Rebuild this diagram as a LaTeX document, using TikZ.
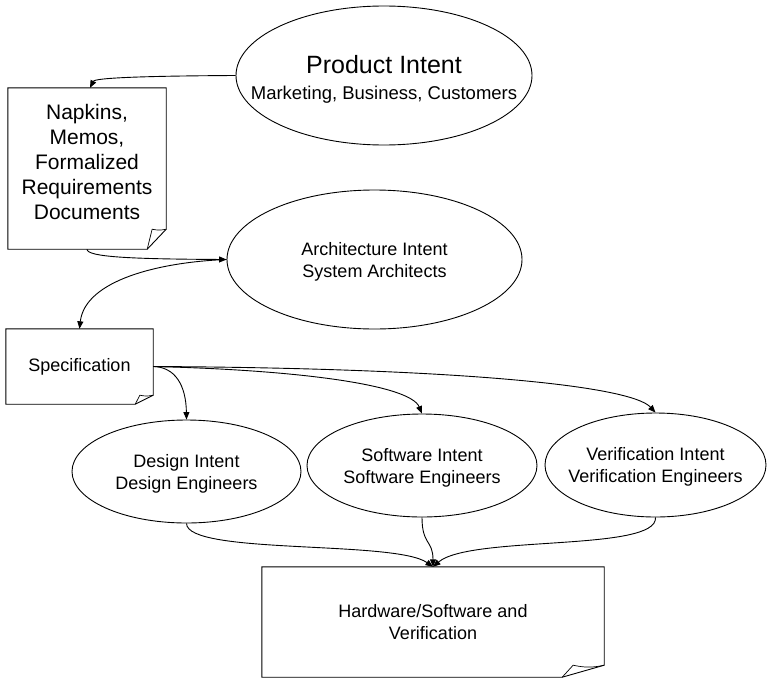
\documentclass[tikz,border=0pt]{standalone}
\usepackage{fontspec}
\setmainfont{Liberation Sans}
\usetikzlibrary{arrows.meta,shapes.geometric}

\tikzset{
  intent/.style={ellipse, draw, line width=0.9pt, inner sep=0pt},
  intenttext/.style={inner sep=0pt, align=center, font=\fontsize{18}{22}\selectfont},
  docbox/.style={rectangle, inner sep=0pt, align=center,
    font=\fontsize{18}{22}\selectfont},
  flow/.style={-{Triangle[length=7.5pt,width=6pt]}, line width=0.9pt},
}

% Outline of a note page with a curled lower-right corner.
% #1 node name, #2 fold width, #3 fold height (pt)
\newcommand{\docoutline}[3]{%
  \draw[line width=0.9pt, line join=miter]
    (#1.north west) -- (#1.north east) -- ([yshift=#3pt]#1.south east)
    -- ([xshift=-#2pt]#1.south east) -- (#1.south west) -- cycle;
  \draw[line width=0.7pt]
    ([xshift=-#2pt]#1.south east) -- ([xshift=-0.74*#2pt, yshift=#3pt]#1.south east)
    to[bend right=12] ([yshift=#3pt]#1.south east);
}

\begin{document}
\begin{tikzpicture}[x=1pt, y=-1pt]
  \useasboundingbox (0,0) rectangle (768,680);

  % intent ellipses
  \node[intent, minimum width=296pt, minimum height=139pt] (product) at (384,75.5) {};
  \node[intent, minimum width=295pt, minimum height=139pt] (arch) at (374.5,259.5) {};
  \node[intent, minimum width=229pt, minimum height=103pt] (design) at (186.5,471.5) {};
  \node[intent, minimum width=230pt, minimum height=103pt] (software) at (422,465.5) {};
  \node[intent, minimum width=221pt, minimum height=104pt] (verif) at (655.5,465) {};

  \node[intenttext, font=\fontsize{18.5}{26}\selectfont] (producttext) at (384,79)
        {{\fontsize{25}{26}\selectfont Product Intent}\\Marketing, Business, Customers};
  \node[intenttext] (archtext) at (374.5,262) {Architecture Intent\\System Architects};
  \node[intenttext] (designtext) at (186.5,474) {Design Intent\\Design Engineers};
  \node[intenttext] (softwaretext) at (422,468) {Software Intent\\Software Engineers};
  \node[intenttext] (veriftext) at (655.5,466.5) {Verification Intent\\Verification Engineers};

  % documents
  \node[docbox, minimum width=158pt, minimum height=161pt] (napkins) at (87,168.5) {};
  \node[align=center, inner sep=0pt, font=\fontsize{21}{25}\selectfont] (napkinstext) at (87,162)
        {Napkins,\\Memos,\\Formalized\\Requirements\\Documents};
  \node[docbox, minimum width=147pt, minimum height=75pt] (spec) at (79.5,366.5) {Specification};
  \node[docbox, minimum width=342pt, minimum height=110pt] (hw) at (433,622)
        {Hardware/Software and\\Verification};

  \docoutline{napkins}{19}{20}
  \docoutline{spec}{18}{9}
  \docoutline{hw}{42}{12}

  % connectors
  \draw[flow] (product.west) .. controls (140,76) and (95,78) .. ([xshift=3pt]napkins.north);
  \draw[flow] (napkins.south) .. controls (87,257) and (130,259) .. (arch.west);
  \draw[flow] (arch.west) .. controls (160,262) and (85,280) .. (spec.north);

  \draw[flow] (spec.east) .. controls (175,367) and (186,385) .. (design.north);
  \draw[flow] (spec.east) .. controls (300,370) and (410,385) .. (software.north);
  \draw[flow] (spec.east) .. controls (450,368) and (630,385) .. (verif.north);

  \draw[flow] (design.south) .. controls (187,555) and (395,540) .. (hw.north);
  \draw[flow] (software.south) .. controls (422,545) and (433,540) .. (hw.north);
  \draw[flow] (verif.south) .. controls (658,552) and (470,535) .. (hw.north);
\end{tikzpicture}
\end{document}
